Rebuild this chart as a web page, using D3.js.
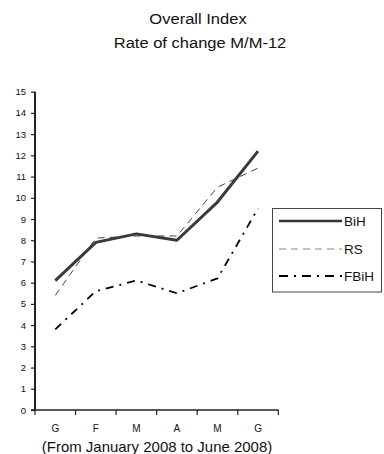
<!DOCTYPE html>
<html>
<head>
<meta charset="utf-8">
<script src="https://cdn.jsdelivr.net/npm/d3@7/dist/d3.min.js"></script>
<style>
  html, body { margin: 0; padding: 0; background: #fff; }
  svg { display: block; font-family: "Liberation Sans", Arial, sans-serif; }
</style>
</head>
<body>
<svg id="chart" width="384" height="454"></svg>
<script>
// Month labels (January–June 2008, local abbreviations)
const months = ["G", "F", "M", "A", "M", "G"];
const monthKeys = ["m1", "m2", "m3", "m4", "m5", "m6"];
const yTicks = [0, 1, 2, 3, 4, 5, 6, 7, 8, 9, 10, 11, 12, 13, 14, 15];

// Annual rate of change, %
const bih  = [6.1, 7.9, 8.3, 8.0, 9.8, 12.2];
const rs   = [5.4, 8.1, 8.2, 8.2, 10.5, 11.4];
const fbih = [3.8, 5.6, 6.1, 5.5, 6.2, 9.5];

const seriesNames = ["BiH", "RS", "FBiH"];

const svg = d3.select("#chart");

const plotLeft = 35, plotRight = 278.3, plotTop = 91.7, plotBottom = 410;

const x = d3.scaleBand().domain(monthKeys).range([plotLeft, plotRight]).paddingInner(0).paddingOuter(0);
const y = d3.scaleLinear().domain([0, 15]).range([plotBottom, plotTop]);
const cx = k => x(k) + x.bandwidth() / 2;

// Horizontally stretched centred text
function wideText(cxPos, baseline, size, sx, str) {
  svg.append("g").attr("transform", `translate(${cxPos},${baseline}) scale(${sx},1)`)
    .append("text").attr("x", 0).attr("y", 0).attr("text-anchor", "middle")
    .attr("font-size", size).attr("fill", "#111").text(str);
}

// Titles
wideText(198, 24, 14.5, 1.14, "Overall Index");
wideText(200, 48, 14.5, 1.14, "Rate of change M/M-12");

// Y axis
const yAxis = svg.append("g").attr("transform", `translate(${plotLeft},0)`)
  .call(d3.axisLeft(y).tickValues(yTicks).tickSize(4).tickPadding(5).tickFormat(d3.format("d")));
yAxis.select(".domain").attr("stroke", "#222").attr("stroke-width", 2).attr("d", `M0,${plotTop}V${plotBottom}`);
yAxis.selectAll(".tick line").attr("stroke", "#222").attr("stroke-width", 1.2);
yAxis.selectAll(".tick text").attr("font-size", 9.5).attr("fill", "#111")
  .attr("font-family", "Liberation Sans, Arial, sans-serif");

// X axis
const xAxis = svg.append("g").attr("transform", `translate(0,${plotBottom})`)
  .call(d3.axisBottom(x).tickSize(0).tickPadding(15).tickFormat((d, i) => months[i]));
xAxis.select(".domain").attr("stroke", "#222").attr("stroke-width", 1.6).attr("d", `M${plotLeft - 4},0H${plotRight}`);
xAxis.selectAll(".tick text").attr("font-size", 10).attr("fill", "#111")
  .attr("font-family", "Liberation Sans, Arial, sans-serif");
// Tick marks on the category boundaries
const edges = monthKeys.map(k => x(k)).concat([plotRight]);
xAxis.selectAll("line.edge").data(edges).enter().append("line")
  .attr("class", "edge")
  .attr("x1", d => d).attr("x2", d => d)
  .attr("y1", 0).attr("y2", 5)
  .attr("stroke", "#222").attr("stroke-width", 1.2);

// Lines
const styles = {
  BiH:  { stroke: "#3a3a3a", width: 3,   dash: null },
  RS:   { stroke: "#444",    width: 1,   dash: "7,5" },
  FBiH: { stroke: "#000",    width: 1.8, dash: "8,6,2,6" }
};
const data = { BiH: bih, RS: rs, FBiH: fbih };
const line = d3.line().x((d, i) => cx(monthKeys[i])).y(d => y(d));

["RS", "FBiH", "BiH"].forEach(name => {
  const s = styles[name];
  svg.append("path").datum(data[name])
    .attr("d", line)
    .attr("fill", "none")
    .attr("stroke", s.stroke)
    .attr("stroke-width", s.width)
    .attr("stroke-dasharray", s.dash)
    .attr("stroke-linejoin", "round");
});

// Legend
const lg = svg.append("g");
lg.append("rect").attr("x", 272.5).attr("y", 208.5).attr("width", 109).attr("height", 83.5)
  .attr("fill", "#fff").attr("stroke", "#444").attr("stroke-width", 1);
const legendStyles = {
  BiH:  { stroke: "#333", width: 2.5, dash: null },
  RS:   { stroke: "#888", width: 1,   dash: "7,5" },
  FBiH: { stroke: "#000", width: 2,   dash: "9,6,2,6" }
};
const rowY = [221, 249, 276];
seriesNames.forEach((name, i) => {
  const s = legendStyles[name];
  lg.append("line").attr("x1", 279).attr("x2", 342).attr("y1", rowY[i]).attr("y2", rowY[i])
    .attr("stroke", s.stroke).attr("stroke-width", s.width).attr("stroke-dasharray", s.dash);
  lg.append("text").attr("x", 344).attr("y", rowY[i] + 5)
    .attr("font-size", 13.5).attr("fill", "#111").text(name);
});

// Period note
wideText(157, 451.5, 14, 1.07, "(From January 2008 to June 2008)");
</script>
</body>
</html>
